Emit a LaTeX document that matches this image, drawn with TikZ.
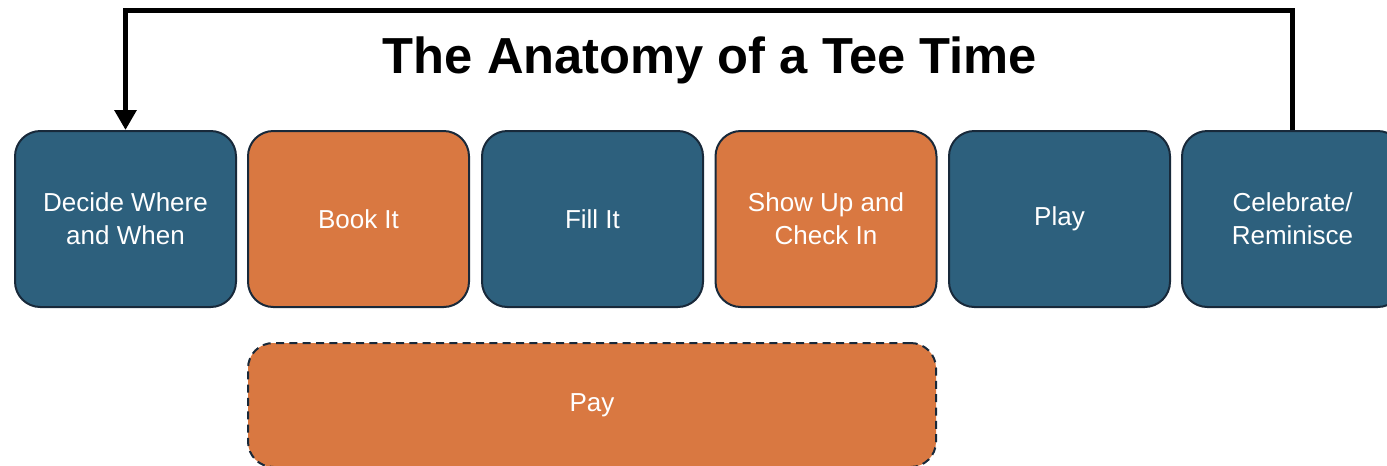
\documentclass[tikz,border=0pt]{standalone}
\usepackage{fontspec}
\setmainfont{Liberation Sans}
\usepackage{tikz}
\usetikzlibrary{arrows.meta,positioning}
\usepackage{xcolor}
\definecolor{stepblue}{HTML}{2D607D}
\definecolor{steporange}{HTML}{D97841}
\definecolor{edgedark}{HTML}{18293A}

\begin{document}
\begin{tikzpicture}[
    x=0.75pt, y=-0.75pt,
    stepbox/.style={draw=edgedark, line width=1.5pt, rounded corners=19pt,
                minimum width=165.75pt, minimum height=132pt, text=white,
                font=\fontsize{19.5}{25}\selectfont, align=center},
    paybox/.style={stepbox, dashed, dash pattern=on 6pt off 4pt,
                minimum width=516pt, minimum height=93pt},
    loop arr/.style={-{Triangle[length=15pt, width=16pt]}, line width=3.75pt,
                rounded corners=0pt}
]
\useasboundingbox (0,0) rectangle (1387,465);

\node[font=\fontsize{38}{44}\bfseries\selectfont, anchor=base] (title) at (710,73) {The Anatomy of a Tee Time};

\node[stepbox, fill=stepblue] (decide) at (125.5,219) {Decide Where\\and When};
\node[stepbox, fill=steporange] (book) at (358.5,219) {Book It};
\node[stepbox, fill=stepblue] (fill) at (592.5,219) {Fill It};
\node[stepbox, fill=steporange] (showup) at (826,219) {Show Up and\\Check In};
\node[stepbox, fill=stepblue] (play) at (1059.5,219) {Play};
\node[stepbox, fill=stepblue] (celebrate) at (1292.5,219) {Celebrate/\\Reminisce};

\node[paybox, fill=steporange] (pay) at (592,405) {Pay};

\coordinate (loop top) at (0,10);
\draw[loop arr] (celebrate.north) -- (celebrate.north |- loop top) -| (decide.north);
\end{tikzpicture}
\end{document}
